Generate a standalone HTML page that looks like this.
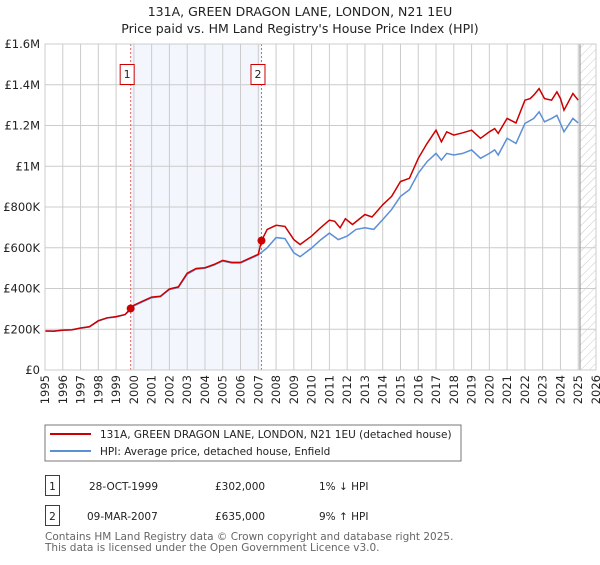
<!DOCTYPE html>
<html><head><meta charset="utf-8"><style>
body{margin:0;background:#fff;}
svg text{font-family:"DejaVu Sans","Liberation Sans",sans-serif;}
</style></head><body>
<svg id="c" width="600" height="560" xmlns="http://www.w3.org/2000/svg">
<defs><pattern id="hatch" width="6" height="6" patternUnits="userSpaceOnUse" patternTransform="rotate(45)"><line x1="0" y1="0" x2="0" y2="6" stroke="#bbb" stroke-width="0.8"/></pattern></defs>
<text x="300" y="16" text-anchor="middle" font-size="12.5" fill="#222">131A, GREEN DRAGON LANE, LONDON, N21 1EU</text>
<text x="300" y="33" text-anchor="middle" font-size="12.5" fill="#222">Price paid vs. HM Land Registry's House Price Index (HPI)</text>
<g id="plot"></g>
<rect x="45" y="425" width="416" height="36" fill="#fff" stroke="#777"/>
<line x1="50" y1="434" x2="91" y2="434" stroke="#cc0000" stroke-width="2"/>
<text x="100" y="438" font-size="10.5" fill="#222">131A, GREEN DRAGON LANE, LONDON, N21 1EU (detached house)</text>
<line x1="50" y1="451" x2="91" y2="451" stroke="#5b8fd6" stroke-width="2"/>
<text x="100" y="455" font-size="10.5" fill="#222">HPI: Average price, detached house, Enfield</text>
<g font-size="10.5" fill="#222">
<rect x="45.5" y="475.5" width="14" height="20" fill="none" stroke="#cc0000"/>
<text x="52.5" y="490" text-anchor="middle">1</text>
<text x="89" y="490">28-OCT-1999</text><text x="215" y="490">£302,000</text><text x="319" y="490">1% ↓ HPI</text></g>
<g font-size="10.5" fill="#222">
<rect x="45.5" y="505.5" width="14" height="20" fill="none" stroke="#cc0000"/>
<text x="52.5" y="520" text-anchor="middle">2</text>
<text x="87" y="520">09-MAR-2007</text><text x="215" y="520">£635,000</text><text x="319" y="520">9% ↑ HPI</text></g>
<text x="45" y="540" font-size="10.5" fill="#666">Contains HM Land Registry data © Crown copyright and database right 2025.</text>
<text x="45" y="551" font-size="10.5" fill="#666">This data is licensed under the Open Government Licence v3.0.</text>
</svg>
<script>
const hpiYears=[1995,1995.5,1996,1996.5,1997,1997.5,1998,1998.5,1999,1999.5,1999.82,2000,2000.5,2001,2001.5,2002,2002.5,2003,2003.5,2004,2004.5,2005,2005.5,2006,2006.5,2007,2007.5,2008,2008.5,2009,2009.35,2010,2010.5,2011,2011.5,2012,2012.5,2013,2013.5,2014,2014.5,2015,2015.5,2016,2016.5,2017,2017.3,2017.6,2018,2018.5,2019,2019.5,2020,2020.3,2020.5,2021,2021.5,2022,2022.5,2022.8,2023.1,2023.5,2023.8,2024,2024.2,2024.7,2025];
const hpiValues=[190,192,195,198,205,212,240,255,260,272,295,315,335,355,360,395,405,470,495,500,515,535,525,525,545,565,600,650,645,575,556,599,638,672,640,657,690,698,690,738,787,852,885,966,1023,1063,1030,1063,1055,1063,1080,1039,1063,1080,1055,1137,1112,1210,1235,1267,1218,1235,1250,1210,1169,1235,1213];
const priceYears=[1995,1995.5,1996,1996.5,1997,1997.5,1998,1998.5,1999,1999.5,1999.82,2000,2000.5,2001,2001.5,2002,2002.5,2003,2003.5,2004,2004.5,2005,2005.5,2006,2006.5,2007,2007.18,2007.5,2008,2008.5,2009,2009.35,2010,2010.5,2011,2011.3,2011.6,2011.9,2012.3,2013,2013.4,2014,2014.5,2015,2015.5,2016,2016.5,2017,2017.3,2017.6,2018,2018.5,2019,2019.5,2020,2020.3,2020.5,2021,2021.5,2022,2022.3,2022.5,2022.8,2023.1,2023.5,2023.8,2024,2024.2,2024.7,2025];
const priceValues=[192,190,196,197,206,212,242,256,262,272,302,318,338,358,362,398,408,475,498,502,518,538,528,528,548,568,635,690,710,705,640,616,657,698,735,730,698,742,714,763,751,811,852,925,941,1039,1112,1177,1120,1169,1153,1164,1177,1137,1169,1185,1161,1235,1213,1324,1332,1349,1381,1332,1324,1365,1332,1275,1357,1324];
const sales=[{n:"1",year:1999.82,value:302},{n:"2",year:2007.18,value:635}];
const yTicks=[0,200,400,600,800,1000,1200,1400,1600];
const yTickLabels=["£0","£200K","£400K","£600K","£800K","£1M","£1.2M","£1.4M","£1.6M"];
const xTicks=[1995,1996,1997,1998,1999,2000,2001,2002,2003,2004,2005,2006,2007,2008,2009,2010,2011,2012,2013,2014,2015,2016,2017,2018,2019,2020,2021,2022,2023,2024,2025,2026];

const L=45,R=596,T=44,B=370,x0=1995,x1=2026,yMax=1600;
const X=v=>L+(v-x0)/(x1-x0)*(R-L);
const Y=v=>B-v/yMax*(B-T);
const NS="http://www.w3.org/2000/svg";
const g=document.getElementById('plot');
function mk(tag,attrs,parent){const e=document.createElementNS(NS,tag);for(const k in attrs)e.setAttribute(k,attrs[k]);(parent||g).appendChild(e);return e;}
let e;
e=mk('rect',{x:X(sales[0].year),y:T,width:X(sales[1].year)-X(sales[0].year),height:B-T,fill:'#f3f6fd'});


e=mk('rect',{x:X(2025.1),y:T,width:R-X(2025.1),height:B-T,fill:'url(#hatch)'});


yTicks.forEach((t,i)=>{
 e=mk('line',{x1:L,x2:R,y1:Y(t),y2:Y(t),stroke:'#ccc','stroke-width':1});
 
 
 e=mk('text',{x:L-5,y:Y(t)+4,'text-anchor':'end','font-size':11.5,fill:'#222'});
 e.textContent=yTickLabels[i];
 
 
});
xTicks.forEach(t=>{
 e=mk('line',{x1:X(t),x2:X(t),y1:T,y2:B,stroke:'#ccc','stroke-width':1});
 
 
 e=mk('text',{x:0,y:0,'text-anchor':'end','font-size':11.5,fill:'#222',transform:`translate(${X(t)+4},${B+5}) rotate(-90)`});
 e.textContent=t;
 
 
});
e=mk('line',{x1:X(2025.1),x2:X(2025.1),y1:T,y2:B,stroke:'#888','stroke-width':1});


sales.forEach(s=>{
 e=mk('line',{x1:X(s.year),x2:X(s.year),y1:T,y2:B,stroke:'#e06060','stroke-width':1,'stroke-dasharray':'2,2'});
 
 
});
function path(xs,vs){return xs.map((x,i)=>(i?'L':'M')+X(x).toFixed(1)+','+Y(vs[i]).toFixed(1)).join('');}
e=mk('path',{d:path(hpiYears,hpiValues),fill:'none',stroke:'#5b8fd6','stroke-width':1.5});


e=mk('path',{d:path(priceYears,priceValues),fill:'none',stroke:'#cc0000','stroke-width':1.5});


sales.forEach(s=>{
 e=mk('circle',{cx:X(s.year),cy:Y(s.value),r:4,fill:'#cc0000'});
 
 
 e=mk('rect',{x:X(s.year)-10.5,y:64.5,width:14,height:20,fill:'#fff',stroke:'#cc0000'});
 
 
 e=mk('text',{x:X(s.year)-3.5,y:78,'text-anchor':'middle','font-size':11,fill:'#222'});
 e.textContent=s.n;
 
 
});
e=mk('rect',{x:L,y:T,width:R-L,height:B-T,fill:'none',stroke:'#ccc'});


</script>
</body></html>
